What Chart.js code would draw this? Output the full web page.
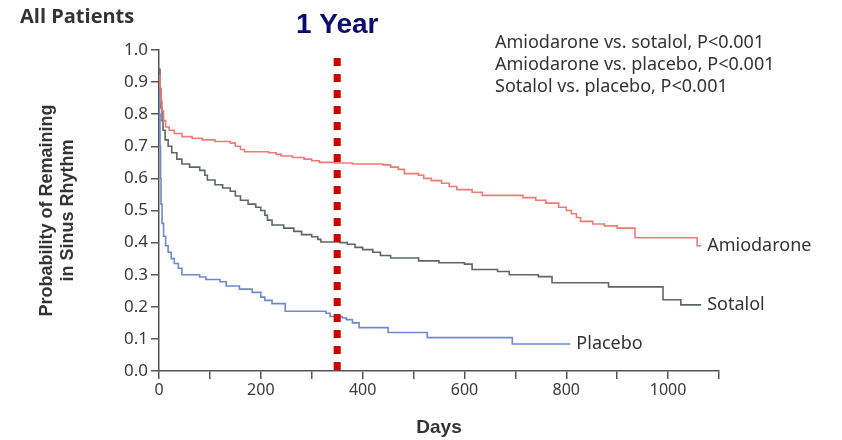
<!DOCTYPE html>
<html>
<head>
<meta charset="utf-8">
<script src="https://cdn.jsdelivr.net/npm/chart.js@4"></script>
<style>
  body { margin: 0; background: #fff; }
  #wrap { width: 842px; height: 440px; }
</style>
</head>
<body>
<div id="wrap"><canvas id="km" width="842" height="440"></canvas></div>
<script>
// Kaplan-Meier data (days, probability)
var amiodaroneDays = [0, 2, 4, 6, 9, 13, 20, 30, 45, 65, 85, 110, 140, 150, 160, 168, 215, 230, 240, 262, 285, 300, 315, 345, 380, 440, 455, 470, 482, 510, 520, 535, 555, 570, 585, 615, 635, 715, 740, 760, 785, 800, 810, 820, 828, 852, 875, 900, 935, 1057, 1065];
var amiodaroneProb = [0.92, 0.88, 0.84, 0.81, 0.78, 0.76, 0.75, 0.74, 0.73, 0.725, 0.72, 0.715, 0.71, 0.70, 0.69, 0.683, 0.68, 0.675, 0.67, 0.665, 0.66, 0.655, 0.65, 0.648, 0.645, 0.642, 0.635, 0.628, 0.615, 0.61, 0.60, 0.593, 0.585, 0.575, 0.565, 0.557, 0.547, 0.54, 0.532, 0.523, 0.51, 0.50, 0.49, 0.478, 0.466, 0.458, 0.452, 0.445, 0.415, 0.39, 0.39];

var sotalolDays = [0, 2, 4, 6, 8, 12, 18, 25, 35, 45, 60, 80, 90, 95, 110, 125, 140, 150, 160, 175, 190, 200, 208, 213, 222, 245, 265, 280, 300, 312, 318, 355, 370, 385, 400, 420, 435, 455, 510, 550, 600, 615, 665, 688, 745, 772, 883, 990, 1025, 1065];
var sotalolProb = [0.94, 0.88, 0.82, 0.78, 0.75, 0.72, 0.70, 0.68, 0.66, 0.645, 0.635, 0.625, 0.61, 0.595, 0.58, 0.57, 0.56, 0.545, 0.532, 0.52, 0.51, 0.50, 0.485, 0.47, 0.455, 0.445, 0.435, 0.425, 0.418, 0.41, 0.402, 0.40, 0.395, 0.385, 0.378, 0.37, 0.36, 0.352, 0.343, 0.337, 0.333, 0.316, 0.31, 0.30, 0.294, 0.275, 0.262, 0.222, 0.206, 0.206];

var placeboDays = [0, 1, 2, 3, 4, 6, 9, 13, 18, 24, 30, 38, 45, 80, 92, 120, 132, 158, 183, 200, 208, 222, 248, 328, 336, 360, 368, 380, 393, 450, 527, 694, 808];
var placeboProb = [0.90, 0.80, 0.70, 0.60, 0.52, 0.46, 0.42, 0.39, 0.37, 0.35, 0.335, 0.32, 0.30, 0.293, 0.285, 0.278, 0.265, 0.255, 0.245, 0.23, 0.22, 0.21, 0.186, 0.18, 0.17, 0.165, 0.16, 0.15, 0.135, 0.12, 0.104, 0.084, 0.084];

var oneYearDay = 350;
var oneYearSpan = [0.975, 0];
var pValueLines = ["Amiodarone vs. sotalol, P<0.001", "Amiodarone vs. placebo, P<0.001", "Sotalol vs. placebo, P<0.001"];

function toPoints(xs, ys) {
    return xs.map(function (x, i) { return { x: x, y: ys[i] }; });
}

var textFont = "'Noto Sans', sans-serif";
var boldFont = "'Liberation Sans', Arial, sans-serif";

var annotations = {
    id: "annotations",
    afterDatasetsDraw: function (chart) {
        var ctx = chart.ctx;
        ctx.save();
        ctx.fillStyle = "#333";
        ctx.textBaseline = "middle";
        ctx.textAlign = "left";
        ctx.font = "18px " + textFont;
        chart.data.datasets.forEach(function (ds, i) {
            if (!ds.endLabel) return;
            var pts = chart.getDatasetMeta(i).data;
            var last = pts[pts.length - 1];
            ctx.fillText(ds.endLabel, last.x + 6, last.y);
        });
        pValueLines.forEach(function (t, i) {
            ctx.fillText(t, 495, 43 + i * 22);
        });
        ctx.font = "bold 20px 'Open Sans', sans-serif";
        ctx.fillText("All Patients", 20, 17);
        ctx.fillStyle = "#0b0b6f";
        ctx.textAlign = "center";
        ctx.font = "bold 28px " + boldFont;
        ctx.fillText("1 Year", chart.scales.x.getPixelForValue(oneYearDay), 25);
        ctx.restore();
    }
};

var chart = new Chart(document.getElementById("km").getContext("2d"), {
    type: "line",
    data: {
        datasets: [
            {
                data: [{ x: oneYearDay, y: oneYearSpan[0] }, { x: oneYearDay, y: oneYearSpan[1] }],
                borderColor: "#cc0000",
                borderWidth: 7,
                borderDash: [8, 8],
                borderCapStyle: "butt",
                pointRadius: 0,
            },
            {
                endLabel: "Amiodarone",
                data: toPoints(amiodaroneDays, amiodaroneProb),
                borderColor: "#f07a78",
                borderWidth: 1.6,
                stepped: true,
                pointRadius: 0,
            },
            {
                endLabel: "Sotalol",
                data: toPoints(sotalolDays, sotalolProb),
                borderColor: "#5c6864",
                borderWidth: 1.6,
                stepped: true,
                pointRadius: 0,
            },
            {
                endLabel: "Placebo",
                data: toPoints(placeboDays, placeboProb),
                borderColor: "#7088d0",
                borderWidth: 1.6,
                stepped: true,
                pointRadius: 0,
            },
        ],
    },
    options: {
        responsive: false,
        animation: false,
        layout: {
            padding: { left: 30, right: 123, top: 50, bottom: 0 },
        },
        plugins: {
            legend: { display: false },
            tooltip: { enabled: false },
        },
        scales: {
            x: {
                type: "linear",
                min: 0,
                max: 1100,
                afterFit: function (scale) { scale.height = 69; },
                border: { color: "#555", width: 1.5 },
                grid: { drawOnChartArea: false, tickLength: 8, color: "#555", lineWidth: 1.5 },
                ticks: {
                    stepSize: 100,
                    autoSkip: false,
                    maxRotation: 0,
                    padding: 2,
                    color: "#3a3a3a",
                    font: { family: textFont, size: 16 },
                    callback: function (v) { return v % 200 === 0 ? v : ""; },
                },
                title: {
                    display: true,
                    text: "Days",
                    color: "#333",
                    font: { family: boldFont, size: 19, weight: "bold" },
                    padding: { top: 0, bottom: 1 },
                },
            },
            y: {
                min: 0,
                max: 1,
                afterFit: function (scale) { scale.width = 129; },
                border: { color: "#555", width: 1.5 },
                grid: { drawOnChartArea: false, tickLength: 8, color: "#555", lineWidth: 1.5 },
                ticks: {
                    stepSize: 0.1,
                    padding: 3,
                    color: "#3a3a3a",
                    font: { family: textFont, size: 17 },
                    callback: function (v) { return v.toFixed(1); },
                },
                title: {
                    display: true,
                    text: ["Probability of Remaining", "in Sinus Rhythm"],
                    color: "#333",
                    font: { family: boldFont, size: 18, weight: "bold", lineHeight: 1.2 },
                    padding: { top: 6, bottom: 0 },
                },
            },
        },
    },
    plugins: [annotations],
});
</script>
</body>
</html>
